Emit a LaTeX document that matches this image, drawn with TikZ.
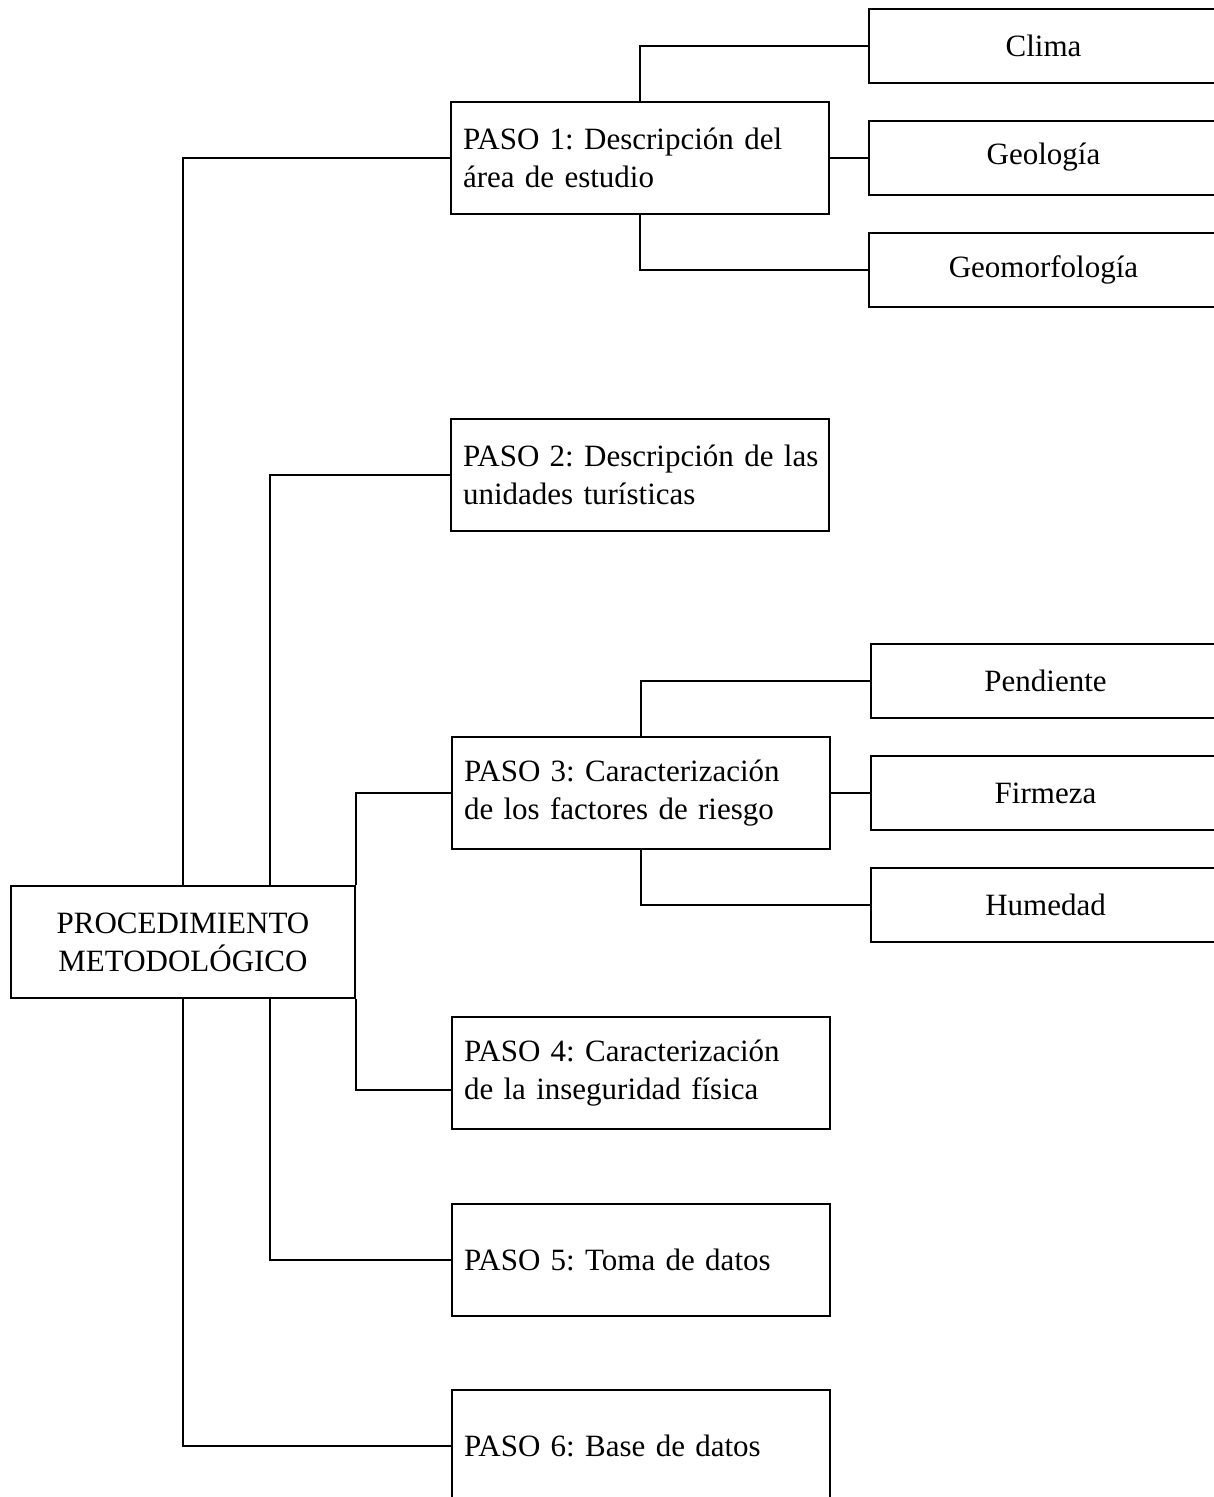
\documentclass[tikz,border=0pt]{standalone}
\usepackage{fontspec}
\setmainfont{Liberation Serif}
\frenchspacing
\begin{document}
\begin{tikzpicture}[x=1pt,y=-1pt,
  every node/.style={font=\fontsize{31}{38}\selectfont\frenchspacing},
  box/.style={draw,line width=2pt,rectangle,inner sep=0pt},
  rootbox/.style={box,minimum width=344pt,minimum height=112pt,align=center},
  stepbox/.style={box,minimum width=378pt,minimum height=112pt,text width=354pt,inner xsep=12pt,align=left},
  leafbox/.style={box,minimum width=349pt,minimum height=74pt,align=center},
  link/.style={line width=2pt}]
\useasboundingbox (0,0) rectangle (1214,1497);
\clip (0,0) rectangle (1214,1497);

% root
\node[rootbox] (root) at (183,942) {PROCEDIMIENTO\\METODOLÓGICO};

% steps
\node[stepbox] (p1) at (640,158) {\mbox{PASO 1: Descripción del}\\\mbox{área de estudio}};
\node[stepbox] (p2) at (640,475) {\mbox{PASO 2: Descripción de las}\\\mbox{unidades turísticas}};
\node[stepbox] (p3) at (641,793) {\mbox{PASO 3: Caracterización}\\\mbox{de los factores de riesgo}};
\node[stepbox] (p4) at (641,1073) {\mbox{PASO 4: Caracterización}\\\mbox{de la inseguridad física}};
\node[stepbox] (p5) at (641,1260) {\mbox{PASO 5: Toma de datos}};
\node[stepbox] (p6) at (641,1446) {\mbox{PASO 6: Base de datos}};

% leaves
\node[leafbox] (clima) at (1043.5,45.5) {Clima};
\node[leafbox] (geol) at (1043.5,157.5) {Geología};
\node[leafbox] (geom) at (1043.5,269.5) {Geomorfología};
\node[leafbox] (pend) at (1045.5,681) {Pendiente};
\node[leafbox] (firm) at (1045.5,793) {Firmeza};
\node[leafbox] (hum) at (1045.5,905) {Humedad};

% bus positions
\coordinate (xa) at (183,0);
\coordinate (xb) at (270,0);
\coordinate (p4in) at ([yshift=-17pt]p4.west);

% root to steps
\draw[link] (p1.west) -| (root.north -| xa);
\draw[link] (p2.west) -| (root.north -| xb);
\draw[link] (p3.west) -| (root.north east);
\draw[link] (root.south east) |- (p4in);
\draw[link] (root.south -| xb) |- (p5.west);
\draw[link] (root.south -| xa) |- (p6.west);

% step 1 to leaves
\draw[link] (p1.north) |- (clima.west);
\draw[link] (p1.east) -- (p1.east -| geol.west);
\draw[link] (p1.south) |- (geom.west);

% step 3 to leaves
\draw[link] (p3.north) |- (pend.west);
\draw[link] (p3.east) -- (firm.west);
\draw[link] (p3.south) |- (hum.west);
\end{tikzpicture}
\end{document}
